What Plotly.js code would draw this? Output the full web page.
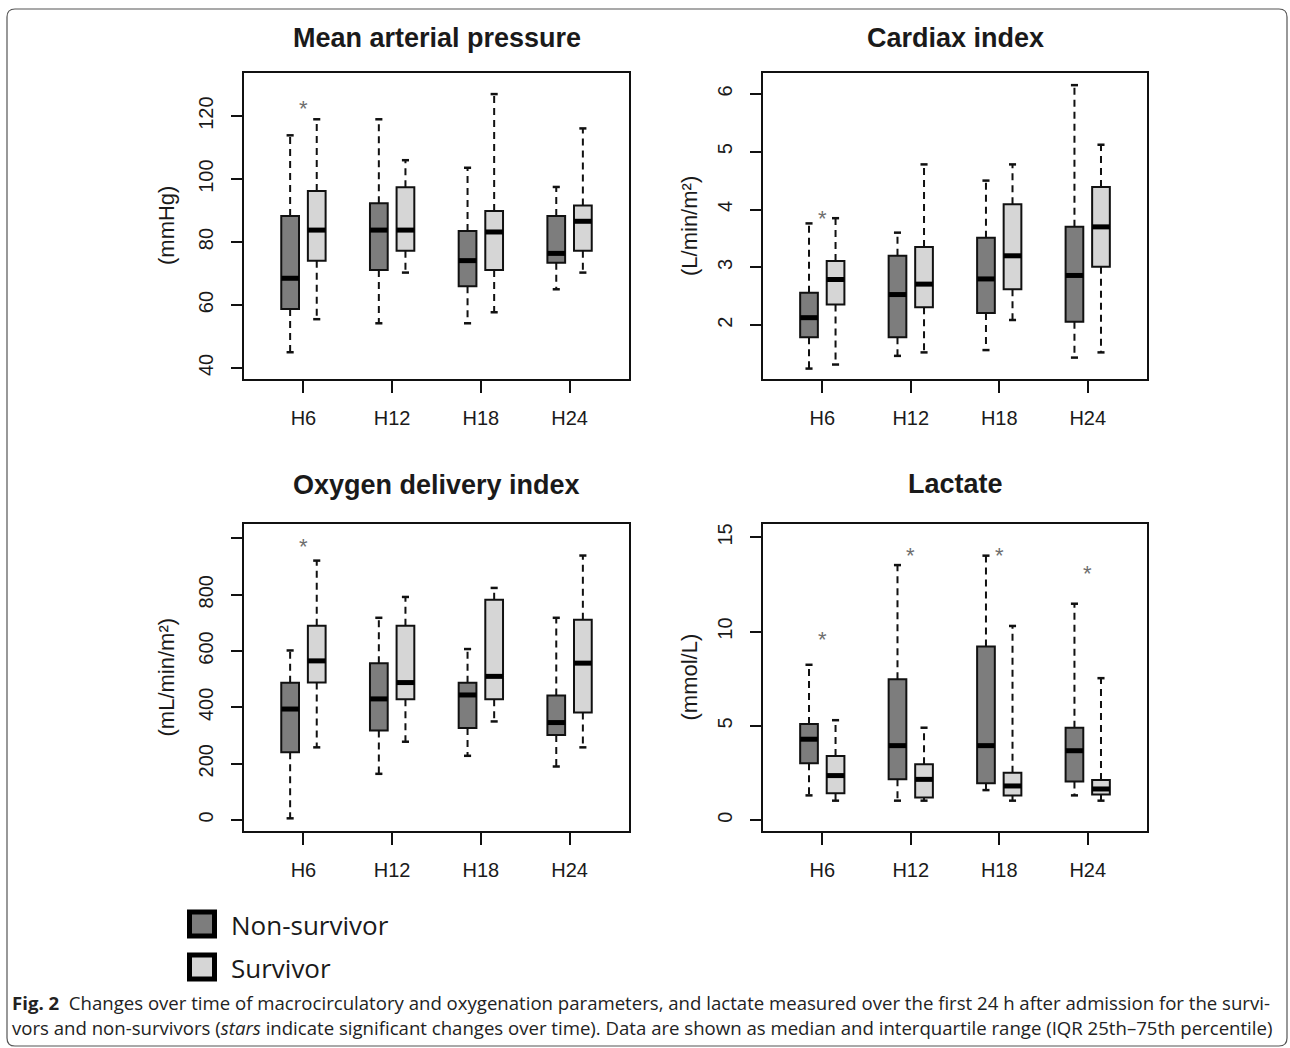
<!DOCTYPE html>
<html><head><meta charset="utf-8">
<script src="https://cdn.plot.ly/plotly-3.0.1.min.js"></script>
<style>html,body{margin:0;padding:0;background:#fff}#chart{width:1290px;height:1048px}</style>
</head><body><div id="chart"></div>
<script>
// ---------- DATA ----------
const timepoints = ['H6', 'H12', 'H18', 'H24'];
const groups = ['Non-survivor', 'Survivor'];
const panelTitles = ['Mean arterial pressure', 'Cardiax index', 'Oxygen delivery index', 'Lactate'];
const unitLabels = ['(mmHg)', '(L/min/m²)', '(mL/min/m²)', '(mmol/L)'];

// Mean arterial pressure
const mapNS_low = [45, 54.2, 54.2, 65];
const mapNS_q1  = [58.7, 71.1, 66, 73.4];
const mapNS_med = [68.5, 83.8, 74.1, 76.4];
const mapNS_q3  = [88.3, 92.3, 83.5, 88.3];
const mapNS_up  = [113.9, 119, 103.6, 97.5];
const mapS_low  = [55.5, 70.3, 57.7, 70.3];
const mapS_q1   = [74.1, 77.2, 71.1, 77.2];
const mapS_med  = [83.8, 83.8, 83.2, 86.6];
const mapS_q3   = [96.2, 97.4, 89.9, 91.6];
const mapS_up   = [119, 106, 127, 116.1];
const mapStars  = [124.2, null, null, null];
const mapTicks  = [40, 60, 80, 100, 120];

// Cardiac index
const ciNS_low = [1.25, 1.47, 1.57, 1.44];
const ciNS_q1  = [1.79, 1.79, 2.21, 2.06];
const ciNS_med = [2.13, 2.53, 2.8, 2.86];
const ciNS_q3  = [2.56, 3.2, 3.51, 3.7];
const ciNS_up  = [3.76, 3.6, 4.5, 6.15];
const ciS_low  = [1.32, 1.53, 2.09, 1.53];
const ciS_q1   = [2.36, 2.31, 2.62, 3.01];
const ciS_med  = [2.79, 2.71, 3.2, 3.7];
const ciS_q3   = [3.11, 3.35, 4.09, 4.39];
const ciS_up   = [3.85, 4.78, 4.78, 5.12];
const ciStars  = [3.95, null, null, null];
const ciTicks  = [2, 3, 4, 5, 6];

// Oxygen delivery index
const doNS_low = [6, 164, 228, 190];
const doNS_q1  = [241, 318, 327, 302];
const doNS_med = [394, 430, 444, 346];
const doNS_q3  = [487, 557, 487, 442];
const doNS_up  = [602, 718, 607, 718];
const doS_low  = [258, 278, 350, 258];
const doS_q1   = [488, 429, 429, 382];
const doS_med  = [565, 488, 510, 557];
const doS_q3   = [690, 690, 782, 711];
const doS_up   = [921, 792, 824, 939];
const doStars  = [992, null, null, null];
const doTicks  = [0, 200, 400, 600, 800, 1000];
const doTickText = ['0', '200', '400', '600', '800', ''];

// Lactate
const laNS_low = [1.31, 1.03, 1.59, 1.31];
const laNS_q1  = [3.01, 2.16, 1.95, 2.04];
const laNS_med = [4.29, 3.95, 3.95, 3.68];
const laNS_q3  = [5.1, 7.47, 9.21, 4.9];
const laNS_up  = [8.24, 13.53, 14.03, 11.48];
const laS_low  = [1.03, 1.03, 1.03, 1.03];
const laS_q1   = [1.42, 1.2, 1.31, 1.36];
const laS_med  = [2.36, 2.16, 1.81, 1.65];
const laS_q3   = [3.4, 2.96, 2.51, 2.13];
const laS_up   = [5.3, 4.9, 10.3, 7.53];
const laStars  = [9.88, 14.35, 14.35, 13.4];
const laTicks  = [0, 5, 10, 15];

const captionLine1 = '<b>Fig. 2</b>  Changes over time of macrocirculatory and oxygenation parameters, and lactate measured over the first 24 h after admission for the survi-';
const captionLine2 = 'vors and non-survivors (<i>stars</i> indicate significant changes over time). Data are shown as median and interquartile range (IQR 25th–75th percentile)';

// ---------- STYLE / LAYOUT CONSTANTS ----------
const W = 1290, H = 1048;
const COLORS = ['#7d7d7d', '#d6d6d6'];
const OFFSETS = [-0.15, 0.15];
const BOXW = 0.2, CAPW = 0.08;
const XRANGE = [-0.67, 3.67];
const FONT = '"Liberation Sans", Arial, sans-serif';
const px = v => v / W, py = v => 1 - v / H;

const panels = [
  { s: '',  xd: [244, 629],  yd: [73, 379],  yr: [36.5, 133.7], ticks: mapTicks, tt: mapTicks.map(String),
    g: [[mapNS_low, mapNS_q1, mapNS_med, mapNS_q3, mapNS_up], [mapS_low, mapS_q1, mapS_med, mapS_q3, mapS_up]], stars: mapStars,
    titleY: 38, unitX: 166 },
  { s: '2', xd: [763, 1147], yd: [73, 379],  yr: [1.07, 6.36], ticks: ciTicks, tt: ciTicks.map(String),
    g: [[ciNS_low, ciNS_q1, ciNS_med, ciNS_q3, ciNS_up], [ciS_low, ciS_q1, ciS_med, ciS_q3, ciS_up]], stars: ciStars,
    titleY: 38, unitX: 689 },
  { s: '3', xd: [244, 629],  yd: [524, 831], yr: [-39, 1051], ticks: doTicks, tt: doTickText,
    g: [[doNS_low, doNS_q1, doNS_med, doNS_q3, doNS_up], [doS_low, doS_q1, doS_med, doS_q3, doS_up]], stars: doStars,
    titleY: 485, unitX: 166 },
  { s: '4', xd: [763, 1147], yd: [524, 831], yr: [-0.58, 15.71], ticks: laTicks, tt: laTicks.map(String),
    g: [[laNS_low, laNS_q1, laNS_med, laNS_q3, laNS_up], [laS_low, laS_q1, laS_med, laS_q3, laS_up]], stars: laStars,
    titleY: 484, unitX: 689 }
];

const traces = [];
const layout = {
  width: W, height: H, margin: { l: 0, r: 0, t: 0, b: 0 },
  paper_bgcolor: '#fff', plot_bgcolor: '#fff', showlegend: false,
  font: { family: FONT, color: '#1a1a1a' },
  annotations: [], shapes: []
};

panels.forEach((p, k) => {
  const xa = 'x' + p.s, ya = 'y' + p.s;
  p.g.forEach((d, gi) => {
    const [low, q1, med, q3, up] = d;
    const xs = timepoints.map((_, i) => i + OFFSETS[gi]);
    const wx = [], wy = [], cx = [], cy = [], mx = [], my = [];
    xs.forEach((x, i) => {
      wx.push(x, x, null, x, x, null);
      wy.push(q3[i], up[i], null, q1[i], low[i], null);
      cx.push(x - CAPW / 2, x + CAPW / 2, null, x - CAPW / 2, x + CAPW / 2, null);
      cy.push(up[i], up[i], null, low[i], low[i], null);
      mx.push(x - BOXW / 2, x + BOXW / 2, null);
      my.push(med[i], med[i], null);
    });
    // dashed whiskers
    traces.push({ type: 'scatter', mode: 'lines', x: wx, y: wy, xaxis: xa, yaxis: ya,
      line: { color: '#111', width: 2, dash: '7px,5px' }, hoverinfo: 'skip' });
    // whisker caps
    traces.push({ type: 'scatter', mode: 'lines', x: cx, y: cy, xaxis: xa, yaxis: ya,
      line: { color: '#111', width: 2.5 }, hoverinfo: 'skip' });
    // boxes (IQR)
    traces.push({ type: 'box', name: groups[gi], x: xs, q1: q1, median: med, q3: q3,
      lowerfence: q1, upperfence: q3, width: BOXW, whiskerwidth: 0, boxpoints: false,
      fillcolor: COLORS[gi], line: { color: '#111', width: 2 }, xaxis: xa, yaxis: ya, hoverinfo: 'skip' });
    // thick medians
    traces.push({ type: 'scatter', mode: 'lines', x: mx, y: my, xaxis: xa, yaxis: ya,
      line: { color: '#000', width: 5 }, hoverinfo: 'skip' });
  });
  // significance stars
  p.stars.forEach((v, i) => {
    if (v !== null) layout.annotations.push({ text: '*', xref: xa, yref: ya, x: i, y: v,
      showarrow: false, yshift: -6, font: { size: 22, color: '#6e6e6e', family: FONT } });
  });

  const axBase = { showline: true, mirror: true, linecolor: '#111', linewidth: 2, ticks: 'outside',
    tickwidth: 2, tickcolor: '#111', showgrid: false, zeroline: false, fixedrange: true };
  layout['xaxis' + p.s] = Object.assign({}, axBase, {
    domain: [px(p.xd[0]), px(p.xd[1])], anchor: ya, range: XRANGE,
    tickmode: 'array', tickvals: timepoints.map((_, i) => i), ticktext: timepoints,
    ticklen: 12, ticklabelstandoff: 8, tickfont: { size: 20, color: '#1a1a1a', family: FONT } });
  layout['yaxis' + p.s] = Object.assign({}, axBase, {
    domain: [py(p.yd[1]), py(p.yd[0])], anchor: xa, range: p.yr,
    tickmode: 'array', tickvals: p.ticks, ticktext: p.tt, tickangle: -90,
    ticklen: 11, ticklabelstandoff: 10, tickfont: { size: 20, color: '#1a1a1a', family: FONT } });

  layout.annotations.push({ text: '<b>' + panelTitles[k] + '</b>', xref: 'paper', yref: 'paper',
    x: px((p.xd[0] + p.xd[1]) / 2), y: py(p.titleY), xanchor: 'center', yanchor: 'middle', showarrow: false,
    font: { size: 27, color: '#1a1a1a', family: FONT } });
  layout.annotations.push({ text: unitLabels[k], xref: 'paper', yref: 'paper', textangle: -90,
    x: px(p.unitX), y: py((p.yd[0] + p.yd[1]) / 2), xanchor: 'center', yanchor: 'middle', showarrow: false,
    font: { size: 22, color: '#1a1a1a', family: FONT } });
});

// legend (drawn)
const legY = [924, 967];
groups.forEach((name, gi) => {
  layout.shapes.push({ type: 'rect', xref: 'paper', yref: 'paper',
    x0: px(189.5), x1: px(214.5), y0: py(legY[gi] - 12), y1: py(legY[gi] + 12),
    fillcolor: COLORS[gi], line: { color: '#000', width: 5 } });
  layout.annotations.push({ text: name, xref: 'paper', yref: 'paper', x: px(229), y: py(legY[gi] + 1),
    xanchor: 'left', yanchor: 'middle', showarrow: false,
    font: { size: 26, color: '#1a1a1a', family: '"Open Sans", "Noto Sans", sans-serif' } });
});

// caption
[[captionLine1, 1002], [captionLine2, 1027]].forEach(([t, y]) => {
  layout.annotations.push({ text: t, xref: 'paper', yref: 'paper', x: px(10), y: py(y),
    xanchor: 'left', yanchor: 'middle', showarrow: false,
    font: { size: 18.6, color: '#222', family: '"Open Sans", "Noto Sans", sans-serif' } });
});

// outer rounded border
const r = 8, L = 7, T = 9, R = 1287, B = 1046;
const P = (x, y) => px(x) + ',' + py(y);
layout.shapes.push({ type: 'path', xref: 'paper', yref: 'paper', line: { color: '#555', width: 1.2 },
  path: 'M' + P(L + r, T) + ' L' + P(R - r, T) + ' Q' + P(R, T) + ' ' + P(R, T + r) +
        ' L' + P(R, B - r) + ' Q' + P(R, B) + ' ' + P(R - r, B) +
        ' L' + P(L + r, B) + ' Q' + P(L, B) + ' ' + P(L, B - r) +
        ' L' + P(L, T + r) + ' Q' + P(L, T) + ' ' + P(L + r, T) + ' Z' });

Plotly.newPlot('chart', traces, layout, { staticPlot: true, displayModeBar: false });
</script>
</body></html>
